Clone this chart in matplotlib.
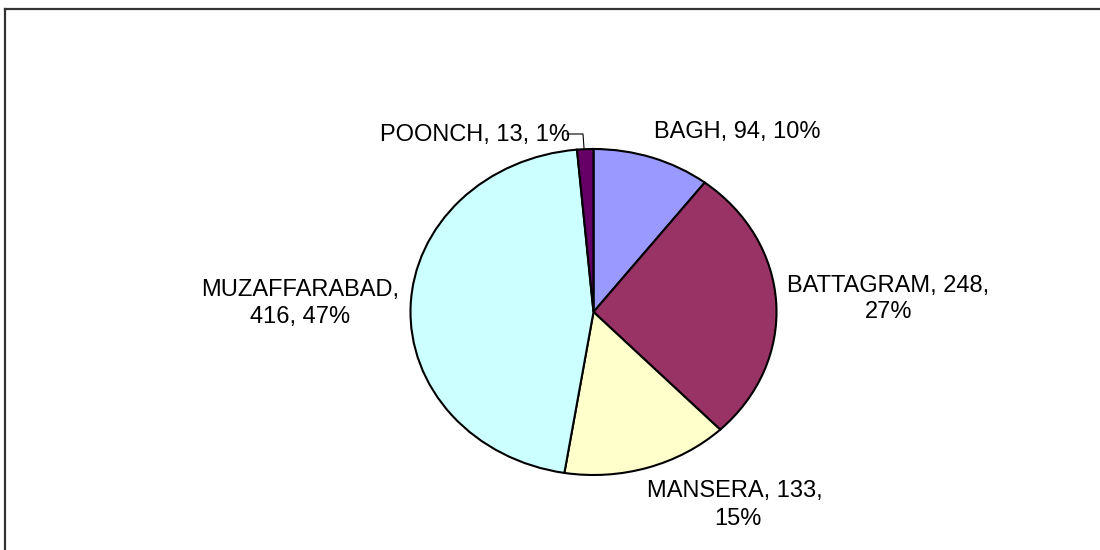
import matplotlib
matplotlib.use("Agg")
import matplotlib.pyplot as plt
from matplotlib.lines import Line2D

# ---- data ----
districts = ["BAGH", "BATTAGRAM", "MANSERA", "MUZAFFARABAD", "POONCH"]
counts = [94, 248, 133, 416, 13]
pct_labels = [10, 27, 15, 47, 1]
colors = ["#9999FF", "#993366", "#FFFFCC", "#CCFFFF", "#660066"]

W, H = 1100, 550
plt.rcParams["font.family"] = ["Liberation Sans", "DejaVu Sans"]

fig = plt.figure(figsize=(W / 100, H / 100), dpi=100)
ax = fig.add_axes([0, 0, 1, 1])

# pie geometry (pixels): ellipse centre and radii
CX, CY, RX, RY = 593.5, 312.0, 183.0, 163.0

ax.pie(counts, colors=colors, startangle=90, counterclock=False,
       wedgeprops=dict(edgecolor="black", linewidth=1.5))
ax.set_aspect("auto")
ax.set_xlim(-CX / RX, (W - CX) / RX)
ax.set_ylim((CY - H) / RY, CY / RY)
ax.axis("off")


def px(x, y):
    """pixel (x right, y down) -> data coords"""
    return (x - CX) / RX, (CY - y) / RY


def lbl(i):
    return districts[i], counts[i], pct_labels[i]


FS = 17
# label lines: (text, centre x px, baseline y px)
lines = []
n, v, p = lbl(0)
lines.append((f"{n}, {v}, {p}%", 737, 138))
n, v, p = lbl(1)
lines.append((f"{n}, {v},", 888.5, 292))
lines.append((f"{p}%", 888.5, 318))
n, v, p = lbl(2)
lines.append((f"{n}, {v},", 735, 497))
lines.append((f"{p}%", 738, 525))
n, v, p = lbl(3)
lines.append((f"{n},", 300, 296))
lines.append((f"{v}, {p}%", 300, 323))
n, v, p = lbl(4)
lines.append((f"{n}, {v}, {p}%", 475, 141))

for t, x, y in lines:
    dx, dy = px(x, y)
    ax.text(dx, dy, t, ha="center", va="baseline", fontsize=FS, color="black")

# leader line for POONCH
lx = [567, 583, 584]
ly = [134, 134, 148]
pts = [px(a, b) for a, b in zip(lx, ly)]
ax.plot([q[0] for q in pts], [q[1] for q in pts], color="black", lw=0.8)

# chart-area border (top and left edges visible)
fig.add_artist(Line2D([4.5 / W, 1.0], [1 - 8.5 / H, 1 - 8.5 / H],
                      transform=fig.transFigure, color="#333333", lw=1.6))
fig.add_artist(Line2D([4.5 / W, 4.5 / W], [0.0, 1 - 8.5 / H],
                      transform=fig.transFigure, color="#333333", lw=1.6))

fig.savefig("out.png", dpi=100, facecolor="white")
